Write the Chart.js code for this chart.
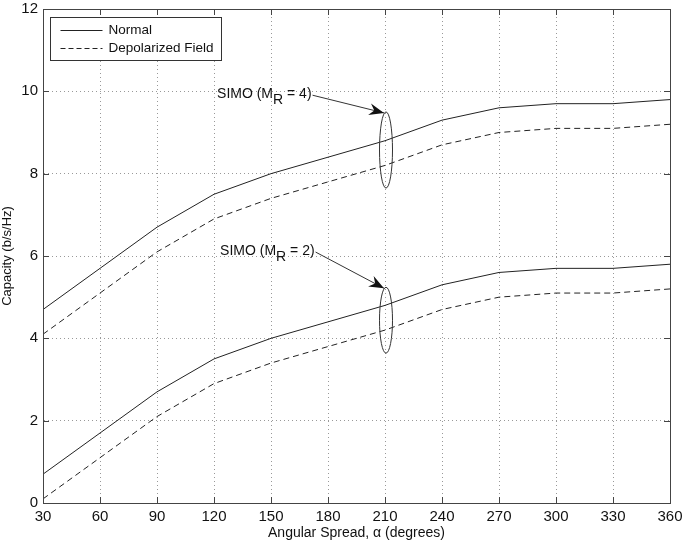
<!DOCTYPE html>
<html>
<head>
<meta charset="utf-8">
<script src="https://cdn.jsdelivr.net/npm/chart.js@4/dist/chart.umd.min.js"></script>
<style>
  html, body { margin: 0; padding: 0; background: #fff; }
  #wrap { width: 685px; height: 547px; }
</style>
</head>
<body>
<div id="wrap"><canvas id="capChart" width="685" height="547"></canvas></div>
<script>
// angular spread (degrees)
const angles = [30, 60, 90, 120, 150, 180, 210, 240, 270, 300, 330, 360];

// SIMO (M_R = 4)
const normalM4 = [4.7, 5.7, 6.7, 7.5, 8.0, 8.4, 8.8, 9.3, 9.6, 9.7, 9.7, 9.8];
const depolM4  = [4.1, 5.1, 6.1, 6.9, 7.4, 7.8, 8.2, 8.7, 9.0, 9.1, 9.1, 9.2];

// SIMO (M_R = 2)
const normalM2 = [0.7, 1.7, 2.7, 3.5, 4.0, 4.4, 4.8, 5.3, 5.6, 5.7, 5.7, 5.8];
const depolM2  = [0.1, 1.1, 2.1, 2.9, 3.4, 3.8, 4.2, 4.7, 5.0, 5.1, 5.1, 5.2];

const legendNames = ["Normal", "Depolarized Field"];
const yTicks = [0, 2, 4, 6, 8, 10, 12];

// annotation: label, angle of ellipse, capacity range covered by ellipse
const notes = [
    { text: "SIMO (M", sub: "R", tail: " = 4)", angle: 210, lo: 7.65, hi: 9.5, labelAngle: 121.6, labelCap: 9.93 },
    { text: "SIMO (M", sub: "R", tail: " = 2)", angle: 210, lo: 3.64, hi: 5.24, labelAngle: 123.2, labelCap: 6.12 }
];

const FONT = "'Liberation Sans', Arial, sans-serif";

function toPts(vals) {
    return vals.map((v, i) => ({ x: angles[i], y: v }));
}

function lineSet(label, vals, dashed) {
    return {
        label: label,
        data: toPts(vals),
        borderColor: "#222",
        borderWidth: 1,
        borderDash: dashed ? [6, 4] : [],
        pointRadius: 0,
        fill: false,
        tension: 0
    };
}

// box, inward ticks, annotations and the legend box
const decor = {
    id: "decor",
    afterDraw(chart) {
        const ctx = chart.ctx;
        const xs = chart.scales.x, ys = chart.scales.y;
        const a = chart.chartArea;
        ctx.save();
        ctx.strokeStyle = "#444";
        ctx.lineWidth = 1;
        ctx.setLineDash([]);
        ctx.strokeRect(Math.round(a.left) + 0.5, Math.round(a.top) + 0.5,
            Math.round(a.right - a.left), Math.round(a.bottom - a.top));
        // ticks on all four sides, pointing in
        angles.forEach(v => {
            const px = Math.round(xs.getPixelForValue(v)) + 0.5;
            ctx.beginPath();
            ctx.moveTo(px, a.bottom); ctx.lineTo(px, a.bottom - 6);
            ctx.moveTo(px, a.top); ctx.lineTo(px, a.top + 6);
            ctx.stroke();
        });
        yTicks.forEach(v => {
            const py = Math.round(ys.getPixelForValue(v)) + 0.5;
            ctx.beginPath();
            ctx.moveTo(a.left, py); ctx.lineTo(a.left + 6, py);
            ctx.moveTo(a.right, py); ctx.lineTo(a.right - 6, py);
            ctx.stroke();
        });

        // ellipses with arrows and labels
        notes.forEach(n => {
            const cx = xs.getPixelForValue(n.angle) + 1;
            const yTop = ys.getPixelForValue(n.hi);
            const yBot = ys.getPixelForValue(n.lo);
            const cy = (yTop + yBot) / 2;
            ctx.strokeStyle = "#333";
            ctx.beginPath();
            ctx.ellipse(cx, cy, 6.5, (yBot - yTop) / 2, 0, 0, Math.PI * 2);
            ctx.stroke();

            const lx = xs.getPixelForValue(n.labelAngle);
            const ly = ys.getPixelForValue(n.labelCap);
            ctx.fillStyle = "#111";
            ctx.textBaseline = "middle";
            ctx.textAlign = "left";
            ctx.font = "14px " + FONT;
            ctx.fillText(n.text, lx, ly);
            let w = ctx.measureText(n.text).width;
            ctx.fillText(n.sub, lx + w, ly + 6);
            w += ctx.measureText(n.sub).width;
            ctx.fillText(n.tail, lx + w, ly);
            w += ctx.measureText(n.tail).width;

            // arrow from label end to top of ellipse
            const sx = lx + w + 1, sy = ly + 1;
            const ex = cx - 2, ey = yTop + 1;
            ctx.beginPath();
            ctx.moveTo(sx, sy); ctx.lineTo(ex, ey);
            ctx.stroke();
            const ang = Math.atan2(ey - sy, ex - sx);
            ctx.fillStyle = "#111";
            ctx.beginPath();
            ctx.moveTo(ex, ey);
            ctx.lineTo(ex - 16 * Math.cos(ang - 0.38), ey - 16 * Math.sin(ang - 0.38));
            ctx.lineTo(ex - 10 * Math.cos(ang), ey - 10 * Math.sin(ang));
            ctx.lineTo(ex - 16 * Math.cos(ang + 0.38), ey - 16 * Math.sin(ang + 0.38));
            ctx.closePath();
            ctx.fill();
        });

        // legend box
        const bx = Math.round(a.left) + 7.5, by = Math.round(a.top) + 8.5, bw = 171, bh = 43;
        ctx.fillStyle = "#fff";
        ctx.fillRect(bx, by, bw, bh);
        ctx.strokeStyle = "#333";
        ctx.strokeRect(bx, by, bw, bh);
        ctx.font = "13.5px " + FONT;
        ctx.fillStyle = "#111";
        ctx.textAlign = "left";
        legendNames.forEach((name, i) => {
            const yy = by + 13 + i * 18;
            ctx.setLineDash(i === 1 ? [5, 3] : []);
            ctx.strokeStyle = "#222";
            ctx.beginPath();
            ctx.moveTo(bx + 10, yy); ctx.lineTo(bx + 52, yy);
            ctx.stroke();
            ctx.fillText(name, bx + 58, yy);
        });
        ctx.restore();
    }
};

const ctx = document.getElementById("capChart").getContext("2d");
new Chart(ctx, {
    type: "line",
    data: {
        datasets: [
            lineSet("Normal (M_R = 4)", normalM4, false),
            lineSet("Depolarized Field (M_R = 4)", depolM4, true),
            lineSet("Normal (M_R = 2)", normalM2, false),
            lineSet("Depolarized Field (M_R = 2)", depolM2, true)
        ]
    },
    options: {
        responsive: false,
        animation: false,
        layout: { padding: { top: 9, right: 15, left: 0, bottom: 0 } },
        plugins: { legend: { display: false }, tooltip: { enabled: false } },
        scales: {
            x: {
                type: "linear",
                min: 30,
                max: 360,
                afterBuildTicks: s => { s.ticks = angles.map(v => ({ value: v })); },
                afterFit: s => { s.height = 44; s.paddingLeft = 0; s.paddingRight = 0; },
                grid: { color: "#999", drawTicks: false, lineWidth: 1 },
                border: { color: "#444", dash: [1, 3] },
                ticks: {
                    color: "#111",
                    padding: 5,
                    font: { family: FONT, size: 15 },
                    maxRotation: 0
                },
                title: {
                    display: true,
                    text: "Angular Spread, \u03b1 (degrees)",
                    color: "#111",
                    font: { family: FONT, size: 14 },
                    padding: { top: 2, bottom: 5 }
                }
            },
            y: {
                min: 0,
                max: 12,
                afterBuildTicks: s => { s.ticks = yTicks.map(v => ({ value: v })); },
                afterFit: s => { s.width = 43; s.paddingTop = 0; s.paddingBottom = 0; },
                grid: { color: "#999", drawTicks: false, lineWidth: 1 },
                border: { color: "#444", dash: [1, 3] },
                ticks: {
                    color: "#111",
                    padding: 5,
                    font: { family: FONT, size: 15 }
                },
                title: {
                    display: true,
                    text: "Capacity (b/s/Hz)",
                    color: "#111",
                    font: { family: FONT, size: 13 },
                    padding: { top: 0, bottom: 2 }
                }
            }
        }
    },
    plugins: [decor]
});
</script>
</body>
</html>
